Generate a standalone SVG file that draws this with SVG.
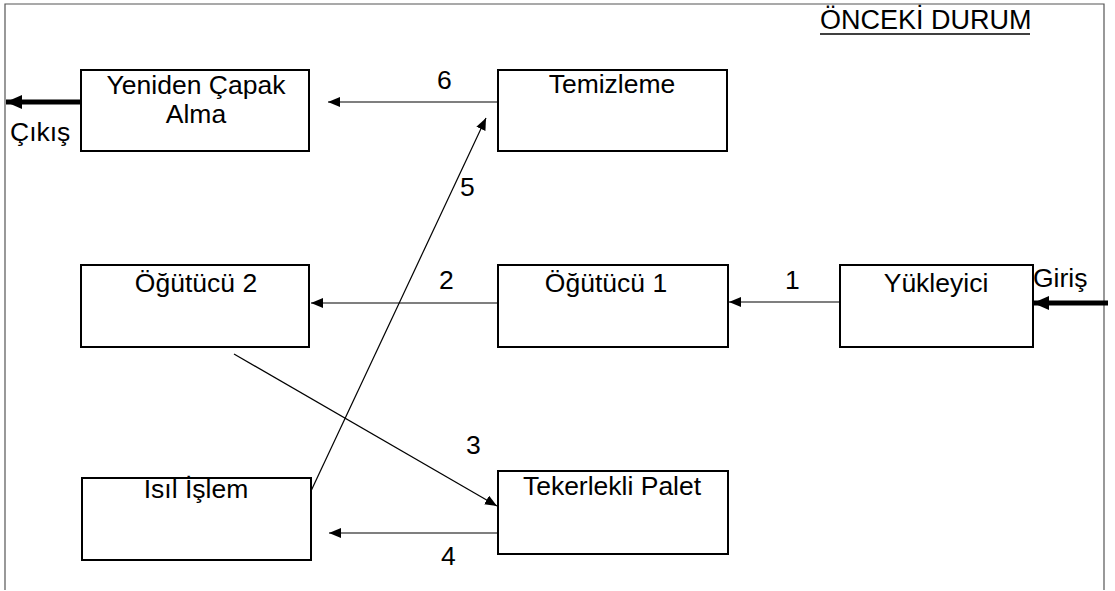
<svg xmlns="http://www.w3.org/2000/svg" width="1115" height="591" viewBox="0 0 1115 591">
  <defs>
    <marker id="head" viewBox="0 0 12 10" refX="12" refY="5" markerWidth="12" markerHeight="10" markerUnits="userSpaceOnUse" orient="auto">
      <path d="M0,0 L12,5 L0,10 Z" fill="#000"/>
    </marker>
    <marker id="bighead" viewBox="0 0 16 14" refX="16" refY="7" markerWidth="16" markerHeight="14" markerUnits="userSpaceOnUse" orient="auto">
      <path d="M0,0 L16,7 L0,14 Z" fill="#000"/>
    </marker>
  </defs>
  <style>
    .box { fill: #fff; stroke: #000; stroke-width: 2; }
    .lbl { font-family: "Liberation Sans", Arial, sans-serif; font-size: 26.5px; fill: #000; }
    .title { font-size: 27px; }
    .mid { text-anchor: middle; }
    .flow { fill: none; stroke: #000; stroke-width: 1.2; marker-end: url(#head); }
    .io { fill: none; stroke: #000; stroke-width: 5; marker-end: url(#bighead); }
  </style>

  <rect width="1115" height="591" fill="#fff"/>

  <!-- page frame -->
  <g id="frame" fill="none" stroke="#555" stroke-width="1.2">
    <path d="M5,590 L5,4 L1104,4 L1104,590"/>
  </g>

  <!-- heading -->
  <g id="title">
    <text class="lbl title" x="820" y="29">ÖNCEKİ DURUM</text>
    <line x1="820" y1="34" x2="1030" y2="34" stroke="#000" stroke-width="1.5"/>
  </g>

  <!-- connectors -->
  <g id="connectors">
    <line class="flow" x1="840" y1="302" x2="729" y2="302"/>
    <line class="flow" x1="498" y1="303" x2="311" y2="303"/>
    <line class="flow" x1="234" y1="354" x2="497" y2="506"/>
    <line class="flow" x1="498" y1="533" x2="329" y2="533"/>
    <line class="flow" x1="311" y1="491" x2="486" y2="118"/>
    <line class="flow" x1="498" y1="102" x2="328" y2="102"/>
    <line class="io" x1="1108" y1="303" x2="1033" y2="303"/>
    <line class="io" x1="81" y1="102" x2="6" y2="102"/>
  </g>

  <!-- step numbers and entry/exit labels -->
  <g id="edge-labels">
    <text class="lbl" x="785" y="289">1</text>
    <text class="lbl" x="439" y="289">2</text>
    <text class="lbl" x="466" y="454">3</text>
    <text class="lbl" x="441" y="565">4</text>
    <text class="lbl" x="460" y="196">5</text>
    <text class="lbl" x="437" y="89">6</text>
    <text class="lbl" x="1033" y="287">Giriş</text>
    <text class="lbl" x="10" y="141">Çıkış</text>
  </g>

  <!-- process steps -->
  <g id="node-yeniden-capak">
    <rect class="box" x="81" y="70" width="228" height="81"/>
    <text class="lbl mid" x="196" y="94">Yeniden Çapak</text>
    <text class="lbl mid" x="196" y="123">Alma</text>
  </g>
  <g id="node-temizleme">
    <rect class="box" x="498" y="70" width="229" height="81"/>
    <text class="lbl mid" x="612" y="93">Temizleme</text>
  </g>
  <g id="node-ogutucu-2">
    <rect class="box" x="81" y="265" width="228" height="82"/>
    <text class="lbl mid" x="196" y="292">Öğütücü 2</text>
  </g>
  <g id="node-ogutucu-1">
    <rect class="box" x="498" y="265" width="230" height="82"/>
    <text class="lbl mid" x="606" y="292">Öğütücü 1</text>
  </g>
  <g id="node-yukleyici">
    <rect class="box" x="840" y="265" width="193" height="82"/>
    <text class="lbl mid" x="936" y="292">Yükleyici</text>
  </g>
  <g id="node-isil-islem">
    <rect class="box" x="82" y="478" width="229" height="82"/>
    <text class="lbl mid" x="196" y="498">Isıl İşlem</text>
  </g>
  <g id="node-tekerlekli-palet">
    <rect class="box" x="498" y="471" width="230" height="83"/>
    <text class="lbl mid" x="612" y="495">Tekerlekli Palet</text>
  </g>
</svg>
